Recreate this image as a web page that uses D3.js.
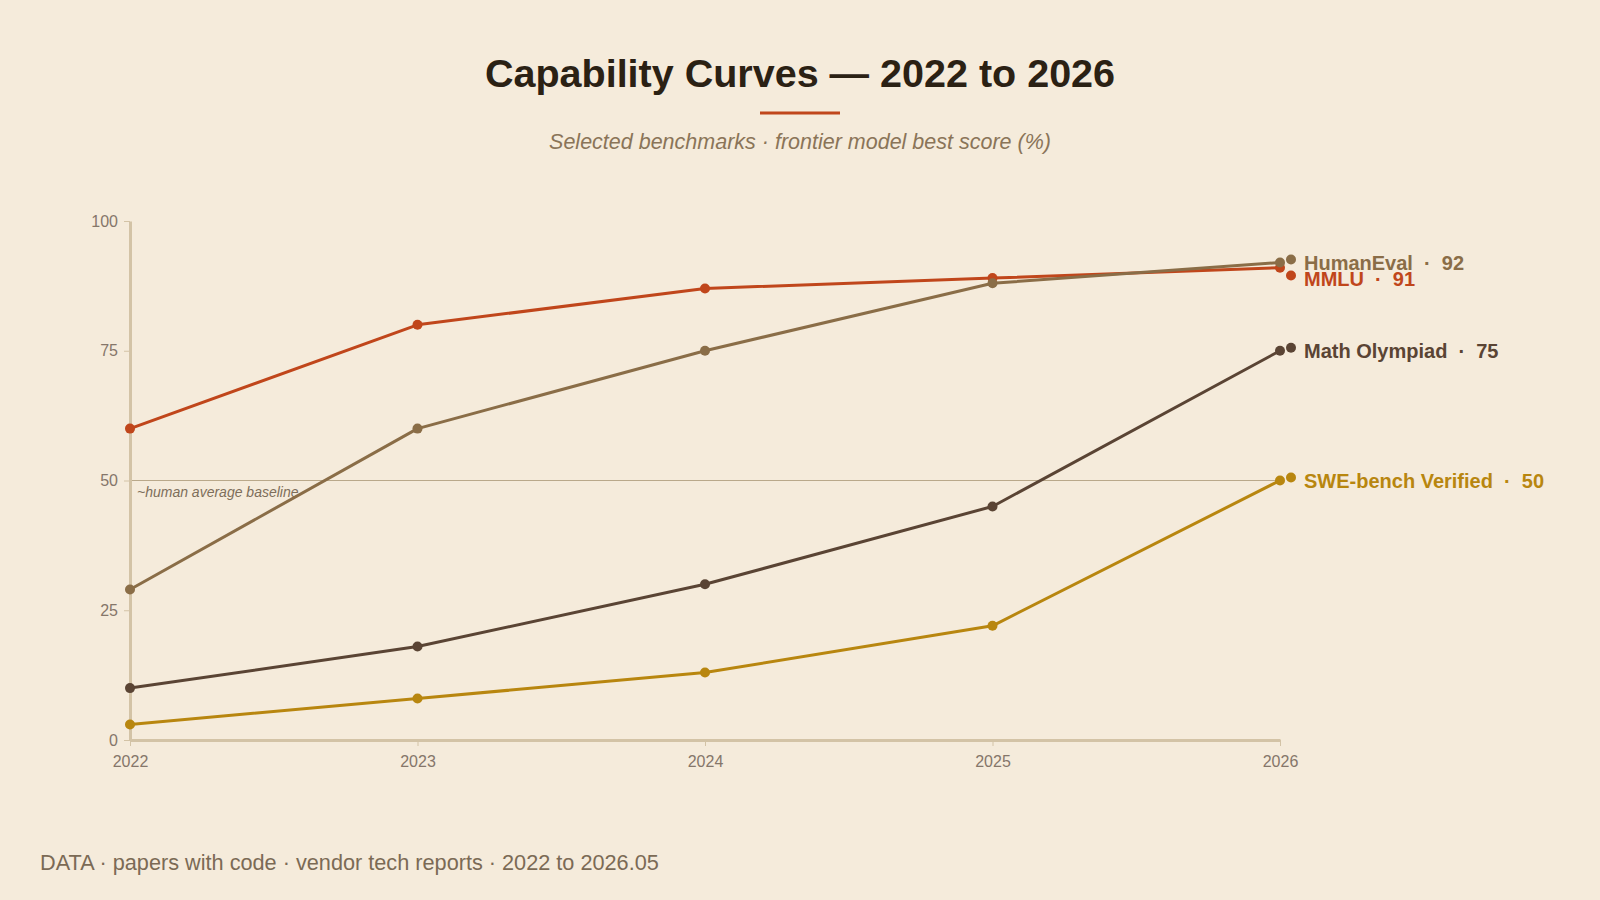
<!DOCTYPE html>
<html><head><meta charset="utf-8">
<script src="https://cdn.jsdelivr.net/npm/d3@7"></script>
<style>
html,body{margin:0;padding:0;background:#f5ebdb;}
svg{display:block;font-family:"Liberation Sans",Arial,Helvetica,sans-serif;}
</style></head>
<body><svg id="c" width="1600" height="900"></svg>
<script>
const years = [2022, 2023, 2024, 2025, 2026];
const seriesNames = ["MMLU", "HumanEval", "Math Olympiad", "SWE-bench Verified"];
const mmlu = [60, 80, 87, 89, 91];
const humanEval = [29, 60, 75, 88, 92];
const mathOlympiad = [10, 18, 30, 45, 75];
const sweBench = [3, 8, 13, 22, 50];
const yTicks = [0, 25, 50, 75, 100];
const baselineValue = 50;
const baselineLabel = "~human average baseline";
const colors = ["#c0461b", "#8a6d47", "#5a4434", "#b8860f"];

const seriesValues = [mmlu, humanEval, mathOlympiad, sweBench];
const series = seriesNames.map((n, i) => ({name: n, values: seriesValues[i], color: colors[i]}));

const svg = d3.select("#c");
const W = 1600, H = 900;
const m = {left: 130, right: 320, top: 221, bottom: 160};
const x = d3.scaleLinear().domain([2022, 2026]).range([m.left, W - m.right]);
const y = d3.scaleLinear().domain([0, 100]).range([H - m.bottom, m.top]);

// Title
svg.append("text").attr("x", 800).attr("y", 87).attr("text-anchor", "middle")
  .attr("font-size", 39.5).attr("font-weight", "bold").attr("fill", "#2b2114")
  .text("Capability Curves — 2022 to 2026");
svg.append("line").attr("x1", 760).attr("x2", 840).attr("y1", 113).attr("y2", 113)
  .attr("stroke", "#c0461b").attr("stroke-width", 3);
svg.append("text").attr("x", 800).attr("y", 149).attr("text-anchor", "middle")
  .attr("font-size", 21.5).attr("font-style", "italic").attr("fill", "#8a7458")
  .text("Selected benchmarks · frontier model best score (%)");

// Baseline
svg.append("line").attr("x1", x(2022)).attr("x2", x(2026))
  .attr("y1", y(baselineValue)).attr("y2", y(baselineValue))
  .attr("stroke", "#b9a88a").attr("stroke-width", 1);
svg.append("text").attr("x", x(2022) + 7).attr("y", y(baselineValue) + 16)
  .attr("font-size", 14).attr("font-style", "italic").attr("fill", "#7d6e5a")
  .text(baselineLabel);

// Axes
const yAxis = svg.append("g").attr("transform", `translate(${m.left},0)`)
  .call(d3.axisLeft(y).tickValues(yTicks).tickSize(6).tickSizeOuter(0).tickPadding(6));
const xAxis = svg.append("g").attr("transform", `translate(0,${H - m.bottom})`)
  .call(d3.axisBottom(x).tickValues(years).tickFormat(d3.format("d")).tickSize(6).tickSizeOuter(0).tickPadding(10));
[yAxis, xAxis].forEach(g => {
  g.select(".domain").attr("stroke", "#d3c3a6").attr("stroke-width", 3);
  g.selectAll(".tick line").attr("stroke", "#d3c3a6").attr("stroke-width", 1);
  g.selectAll(".tick text").attr("fill", "#85766a").attr("font-size", 16)
    .attr("font-family", "'Liberation Sans',Arial,sans-serif");
});

// Lines
const line = d3.line().x((d, i) => x(years[i])).y(d => y(d));
series.forEach(s => {
  svg.append("path").attr("d", line(s.values)).attr("fill", "none")
    .attr("stroke", s.color).attr("stroke-width", 3).attr("stroke-linejoin", "round");
  svg.selectAll(null).data(s.values).enter().append("circle")
    .attr("cx", (d, i) => x(years[i])).attr("cy", d => y(d)).attr("r", 5)
    .attr("fill", s.color);
});

// End labels with collision avoidance
const labels = series.map(s => {
  const v = s.values[s.values.length - 1];
  return {s, v, ly: y(v)};
}).sort((a, b) => a.ly - b.ly);
for (let i = 1; i < labels.length; i++) {
  if (labels[i].ly - labels[i - 1].ly < 16) labels[i].ly = labels[i - 1].ly + 16;
}
labels.forEach(l => {
  svg.append("circle").attr("cx", x(2026) + 11).attr("cy", l.ly - 3).attr("r", 5).attr("fill", l.s.color);
  svg.append("text").attr("x", x(2026) + 24).attr("y", l.ly).attr("dy", "0.35em")
    .attr("font-size", 20).attr("font-weight", "bold").attr("fill", l.s.color)
    .attr("xml:space", "preserve")
    .text(`${l.s.name}  ·  ${l.v}`);
});

// Footer
svg.append("text").attr("x", 40).attr("y", 870).attr("font-size", 21.7).attr("fill", "#7b6a55")
  .text("DATA · papers with code · vendor tech reports · 2022 to 2026.05");
</script></body></html>
